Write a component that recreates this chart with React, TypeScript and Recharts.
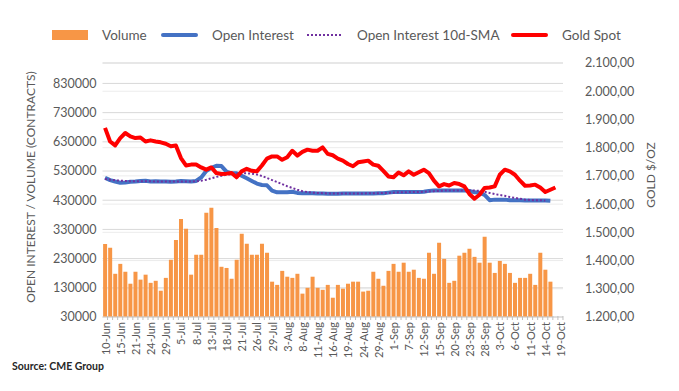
import React from 'react';
import { ComposedChart, Bar, Line, XAxis, YAxis, CartesianGrid } from 'recharts';

const dates = [
  '10-Jun','13-Jun','14-Jun','15-Jun','16-Jun','17-Jun','21-Jun','22-Jun','23-Jun','24-Jun','27-Jun','28-Jun','29-Jun','30-Jun',
  '1-Jul','5-Jul','6-Jul','7-Jul','8-Jul','11-Jul','12-Jul','13-Jul','14-Jul','15-Jul','18-Jul','19-Jul','20-Jul','21-Jul','22-Jul','25-Jul','26-Jul','27-Jul','28-Jul','29-Jul',
  '1-Aug','2-Aug','3-Aug','4-Aug','5-Aug','8-Aug','9-Aug','10-Aug','11-Aug','12-Aug','15-Aug','16-Aug','17-Aug','18-Aug','19-Aug','22-Aug','23-Aug','24-Aug','25-Aug','26-Aug','29-Aug','30-Aug','31-Aug',
  '1-Sep','2-Sep','6-Sep','7-Sep','8-Sep','9-Sep','12-Sep','13-Sep','14-Sep','15-Sep','16-Sep','19-Sep','20-Sep','21-Sep','22-Sep','23-Sep','26-Sep','27-Sep','28-Sep','29-Sep','30-Sep',
  '3-Oct','4-Oct','5-Oct','6-Oct','7-Oct','10-Oct','11-Oct','12-Oct','13-Oct','14-Oct','17-Oct','18-Oct','19-Oct',
];

const volume = [
  280000,267000,178000,212000,185000,144000,185000,158000,175000,147000,154000,120000,164000,226000,
  294000,366000,332000,175000,243000,243000,387000,404000,335000,202000,198000,161000,226000,315000,281000,243000,243000,281000,250000,151000,
  140000,188000,168000,164000,178000,110000,130000,168000,130000,123000,140000,96000,140000,127000,144000,151000,151000,117000,120000,185000,161000,137000,188000,
  212000,185000,216000,185000,192000,164000,161000,250000,178000,284000,229000,147000,154000,240000,250000,264000,236000,216000,305000,216000,181000,
  222000,212000,181000,147000,164000,164000,178000,140000,250000,192000,151000,null,null,
];

const openInterest = [
  507000,499000,494000,490000,491000,493000,494000,496000,497000,494000,495000,494000,494000,493000,
  494000,496000,495000,494000,496000,508000,530000,541000,548000,547000,528000,522000,522000,514000,505000,496000,487000,482000,481000,463000,
  457000,457000,457000,459000,455000,454000,454000,454000,453000,453000,452000,452000,452000,453000,453000,453000,453000,453000,453000,453000,454000,454000,456000,
  458000,458000,458000,458000,458000,458000,459000,462000,463000,463000,463000,463000,463000,463000,463000,462000,457000,456000,448000,430000,432000,
  432000,432000,430000,430000,430000,429000,429000,429000,429000,429000,428000,null,null,
];

const oiSma = [
  503000,500000,498000,497000,496000,495000,495000,495000,495000,495000,494000,494000,494000,494000,
  494000,494000,494000,494000,495000,497000,500000,505000,510000,514000,517000,519000,521000,522000,522000,521000,518000,513000,506000,499000,
  492000,485000,478000,472000,466000,461000,458000,456000,455000,454000,453000,453000,453000,453000,453000,453000,453000,453000,454000,454000,454000,455000,455000,
  456000,457000,457000,458000,458000,458000,459000,460000,461000,462000,463000,463000,463000,463000,463000,463000,463000,462000,459000,455000,
  451000,448000,445000,441000,438000,435000,432000,431000,430000,430000,429000,null,null,
];

const goldSpot = [
  1870,1822,1808,1834,1852,1840,1834,1836,1822,1826,1822,1819,1814,1805,
  1808,1763,1737,1740,1740,1730,1722,1730,1710,1707,1708,1710,1695,1716,1725,1718,1716,1737,1761,1769,
  1769,1757,1766,1789,1772,1785,1793,1789,1789,1801,1778,1773,1761,1754,1742,1734,1748,1751,1754,1740,1736,1718,1698,
  1695,1712,1702,1716,1704,1713,1722,1710,1683,1663,1671,1666,1675,1671,1663,1636,1619,1633,1657,1659,1663,
  1704,1722,1716,1704,1683,1665,1666,1669,1659,1643,1651,1659,null,
];

const leftTicks = [30000,130000,230000,330000,430000,530000,630000,730000,830000];
const rightTicks = [1200,1300,1400,1500,1600,1700,1800,1900,2000,2100];

const data = dates.map((d, i) => ({
  date: d,
  volume: volume[i],
  oi: openInterest[i],
  sma: oiSma[i],
  gold: goldSpot[i],
}));

const FONT = 'Lato, "Open Sans", sans-serif';
const GREY = '#595959';

const fmtGold = (v: number) => {
  const [a, b] = v.toFixed(2).split('.');
  return a.replace(/\B(?=(\d{3})+(?!\d))/g, '.') + ',' + b;
};

const XTick = (props: any) => {
  const { x, y, payload } = props;
  const i = payload.index;
  const ty = y + 5;
  return (
    <g>
      <line x1={x + 2.5} x2={x + 2.5} y1={y - 1} y2={y + 3} stroke="#bfbfbf" strokeWidth={1} />
      {i % 3 === 0 && (
        <text
          x={x}
          y={ty}
          transform={`rotate(-90, ${x}, ${ty})`}
          textAnchor="end"
          dominantBaseline="central"
          fontSize={11}
          fontFamily={FONT}
          fill={GREY}
        >
          {payload.value}
        </text>
      )}
    </g>
  );
};

const legendItems = [
  { label: 'Volume', kind: 'rect', color: '#F79646', x: 52, tx: 102 },
  { label: 'Open Interest', kind: 'line', color: '#4472C4', x: 161, tx: 212 },
  { label: 'Open Interest 10d-SMA', kind: 'dot', color: '#7030A0', x: 307, tx: 357 },
  { label: 'Gold Spot', kind: 'line', color: '#FF0000', x: 511, tx: 562 },
];

const LegendBox = () => (
  <svg width={679} height={60} style={{ position: 'absolute', left: 0, top: 0 }}>
    {legendItems.map((it) => (
      <g key={it.label}>
        {it.kind === 'rect' && <rect x={it.x} y={30} width={36} height={10} fill={it.color} />}
        {it.kind === 'line' && (
          <line x1={it.x + 2} x2={it.x + 35} y1={35} y2={35} stroke={it.color} strokeWidth={4} strokeLinecap="round" />
        )}
        {it.kind === 'dot' && (
          <line x1={it.x} x2={it.x + 36} y1={35} y2={35} stroke={it.color} strokeWidth={2} strokeDasharray="2 2" />
        )}
        <text x={it.tx} y={35} dominantBaseline="central" fontSize={13.5} fontFamily={FONT} fill={GREY}>
          {it.label}
        </text>
      </g>
    ))}
  </svg>
);

export default function App() {
  return (
    <div style={{ position: 'absolute', left: 0, top: 0, width: 679, height: 391, background: '#fff', fontFamily: FONT }}>
      <LegendBox />
      <ComposedChart
        width={679}
        height={391}
        data={data}
        margin={{ top: 63, right: 0, bottom: 14, left: 0 }}
        barCategoryGap="12%"
        style={{ position: 'absolute', left: 0, top: 0 }}
      >
        <CartesianGrid yAxisId="right" vertical={false} stroke="#ececec" />
        <CartesianGrid yAxisId="left" vertical={false} stroke="#d9d9d9" />
        <XAxis
          dataKey="date"
          interval={0}
          height={60}
          tickLine={false}
          tickSize={0}
          tickMargin={0}
          axisLine={{ stroke: '#d9d9d9' }}
          tick={<XTick />}
        />
        <YAxis
          yAxisId="left"
          orientation="left"
          width={102.5}
          domain={[30000, 900000]}
          ticks={leftTicks}
          allowDataOverflow
          axisLine={false}
          tickLine={false}
          tickSize={0}
          tickMargin={6}
          tick={{ fontSize: 12.5, fill: GREY, fontFamily: FONT }}
          label={{
            value: 'OPEN INTEREST / VOLUME (CONTRACTS)',
            angle: -90,
            position: 'center',
            dx: -21,
            dy: -3,
            style: { fontSize: 12, fill: GREY, fontFamily: FONT, textAnchor: 'middle' },
          }}
        />
        <YAxis
          yAxisId="right"
          orientation="right"
          width={116}
          domain={[1200, 2100]}
          ticks={rightTicks}
          axisLine={false}
          tickLine={false}
          tickSize={0}
          tickMargin={22}
          tickFormatter={fmtGold}
          tick={{ fontSize: 12.5, fill: GREY, fontFamily: FONT }}
          label={{
            value: 'GOLD $/OZ',
            angle: -90,
            position: 'center',
            dx: 30,
            dy: -15,
            style: { fontSize: 12, fill: GREY, fontFamily: FONT, textAnchor: 'middle' },
          }}
        />
        <Bar yAxisId="left" dataKey="volume" fill="#F79646" isAnimationActive={false} />
        <Line yAxisId="left" dataKey="oi" stroke="#4472C4" strokeWidth={4} dot={false} strokeLinejoin="round" isAnimationActive={false} />
        <Line yAxisId="left" dataKey="sma" stroke="#7030A0" strokeWidth={2} strokeDasharray="2 2" dot={false} isAnimationActive={false} />
        <Line yAxisId="right" dataKey="gold" stroke="#FF0000" strokeWidth={4} dot={false} strokeLinejoin="round" isAnimationActive={false} />
      </ComposedChart>
      <div
        style={{
          position: 'absolute',
          left: 12,
          top: 360,
          fontSize: 10.5,
          fontWeight: 700,
          color: '#262626',
          fontFamily: FONT,
        }}
      >
        Source: CME Group
      </div>
    </div>
  );
}
